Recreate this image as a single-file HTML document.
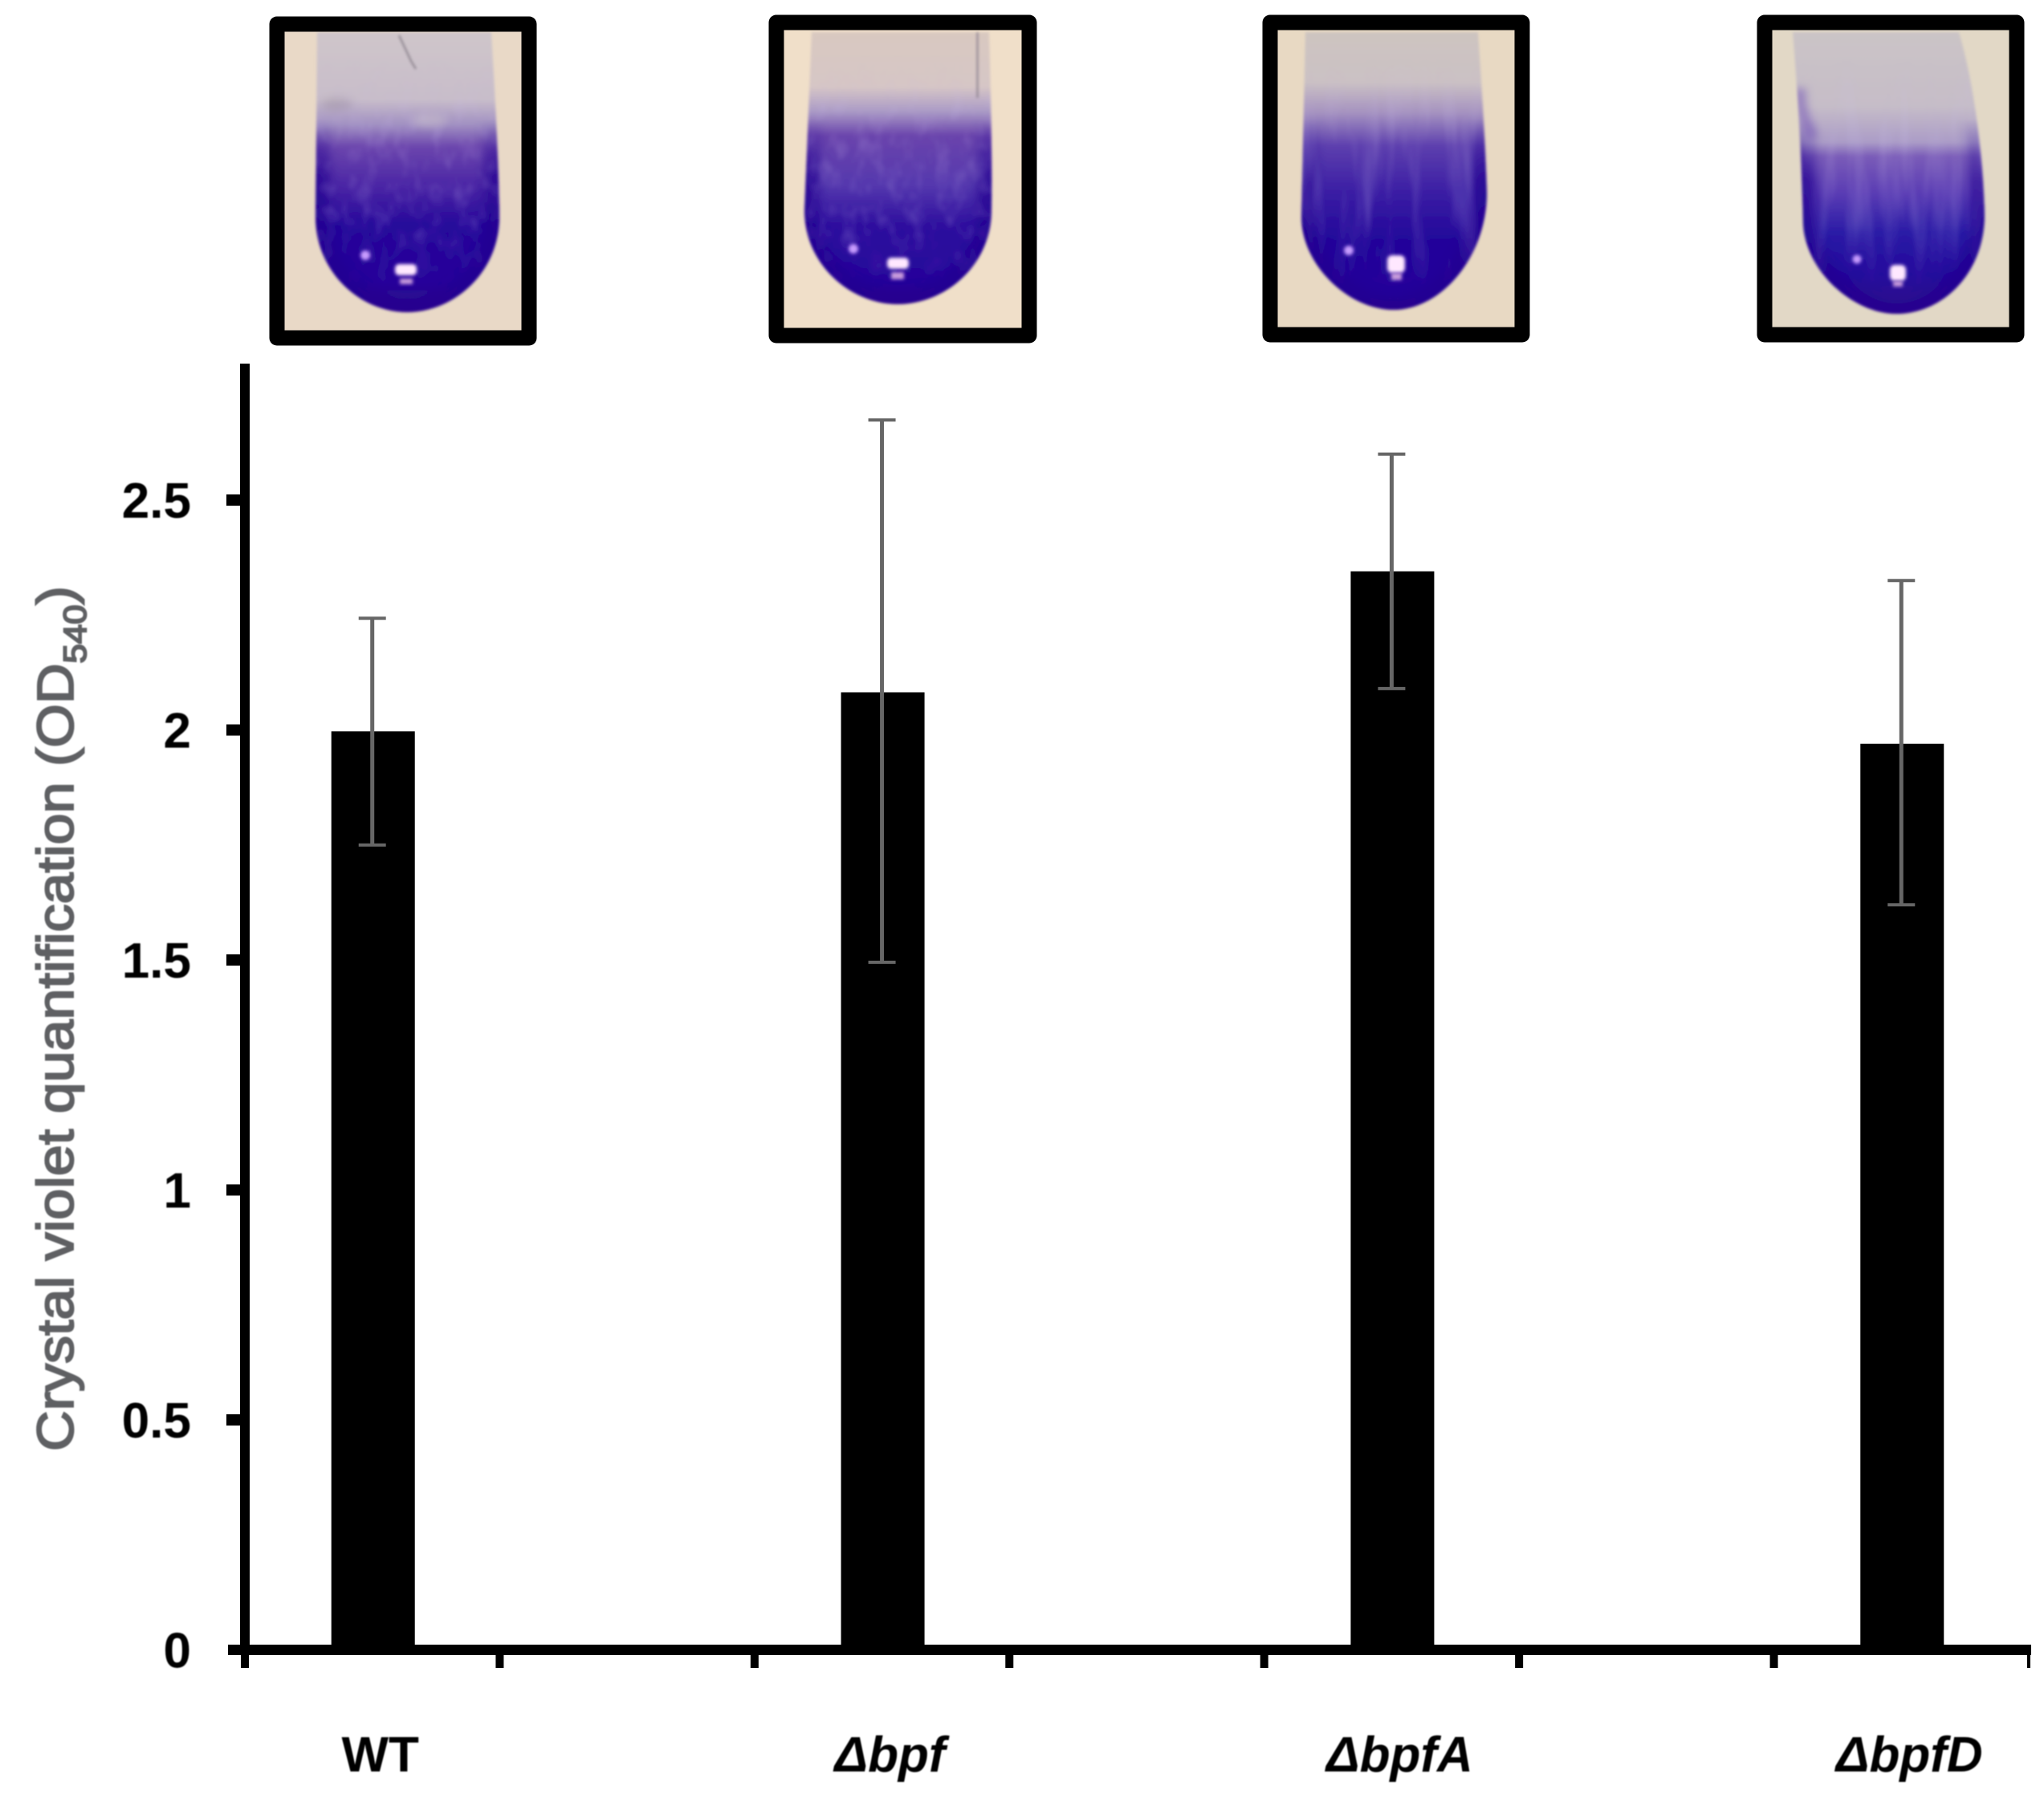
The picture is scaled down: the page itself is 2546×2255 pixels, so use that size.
<!DOCTYPE html>
<html lang="en">
<head>
<meta charset="utf-8">
<title>Crystal violet quantification</title>
<style>
  html,body{margin:0;padding:0;background:#fff;width:2546px;height:2255px;overflow:hidden}
  svg{display:block}
  text{font-family:"Liberation Sans",sans-serif}
</style>
</head>
<body>
<svg id="chart" xmlns="http://www.w3.org/2000/svg" width="2546" height="2255" viewBox="0 0 2546 2255">
  <defs>
    <filter id="soft" x="-10%" y="-10%" width="120%" height="120%"><feGaussianBlur stdDeviation="0.9"/></filter>
    <filter id="soft2" filterUnits="userSpaceOnUse" x="0" y="0" width="2546" height="450"><feGaussianBlur stdDeviation="1.6"/></filter>
    <filter id="soft3" filterUnits="userSpaceOnUse" x="0" y="0" width="2546" height="450"><feGaussianBlur stdDeviation="5"/></filter>
    <filter id="edge" filterUnits="userSpaceOnUse" x="0" y="0" width="2546" height="450"><feGaussianBlur stdDeviation="6"/></filter>
    <filter id="glow" x="-50%" y="-50%" width="200%" height="200%"><feGaussianBlur stdDeviation="2.2"/></filter>
    <filter id="streaks" filterUnits="userSpaceOnUse" x="0" y="0" width="2546" height="450">
      <feTurbulence type="fractalNoise" baseFrequency="0.05 0.006" numOctaves="3" seed="7"/>
      <feColorMatrix type="matrix" values="0 0 0 0 0.62  0 0 0 0 0.55  0 0 0 0 0.85  1.9 0 0 0 -0.85"/>
      <feGaussianBlur stdDeviation="1.2"/>
    </filter>
    <filter id="mottle" filterUnits="userSpaceOnUse" x="0" y="0" width="2546" height="450">
      <feTurbulence type="fractalNoise" baseFrequency="0.06 0.035" numOctaves="3" seed="11"/>
      <feColorMatrix type="matrix" values="0 0 0 0 0.60  0 0 0 0 0.50  0 0 0 0 0.88  2.2 0 0 0 -1"/>
      <feGaussianBlur stdDeviation="1.6"/>
    </filter>
    <linearGradient id="fadeStreak" gradientUnits="userSpaceOnUse" x1="0" y1="0" x2="0" y2="450">
      <stop offset=".16" stop-color="#000"/><stop offset=".36" stop-color="#fff"/><stop offset=".62" stop-color="#fff"/><stop offset=".8" stop-color="#000"/>
    </linearGradient>
    <linearGradient id="fadeEdge" gradientUnits="userSpaceOnUse" x1="0" y1="0" x2="0" y2="450">
      <stop offset=".33" stop-color="#000"/><stop offset=".5" stop-color="#fff"/>
    </linearGradient>
    <mask id="mStreak" maskUnits="userSpaceOnUse" x="0" y="0" width="2546" height="450"><rect width="2546" height="450" fill="url(#fadeStreak)"/></mask>
    <mask id="mEdge" maskUnits="userSpaceOnUse" x="0" y="0" width="2546" height="450"><rect width="2546" height="450" fill="url(#fadeEdge)"/></mask>
    <linearGradient id="g1" gradientUnits="userSpaceOnUse" x1="0" y1="40" x2="0" y2="390">
      <stop offset="0" stop-color="#cfc6ca"/><stop offset=".24" stop-color="#c8bdca"/><stop offset=".33" stop-color="#a190c2"/>
      <stop offset=".41" stop-color="#6b45ad"/><stop offset=".55" stop-color="#4a25a5"/><stop offset=".69" stop-color="#25079a"/>
      <stop offset=".89" stop-color="#26049a"/><stop offset="1" stop-color="#35128a"/>
    </linearGradient>
    <linearGradient id="g2" gradientUnits="userSpaceOnUse" x1="0" y1="40" x2="0" y2="380">
      <stop offset="0" stop-color="#d9c9c0"/><stop offset=".2" stop-color="#d6c6c6"/><stop offset=".29" stop-color="#ab9bc6"/>
      <stop offset=".38" stop-color="#6a44ac"/><stop offset=".56" stop-color="#5538ae"/><stop offset=".71" stop-color="#2d0e9e"/>
      <stop offset=".92" stop-color="#25049a"/><stop offset="1" stop-color="#35128a"/>
    </linearGradient>
    <linearGradient id="g3" gradientUnits="userSpaceOnUse" x1="0" y1="40" x2="0" y2="386">
      <stop offset="0" stop-color="#cdc4c0"/><stop offset=".18" stop-color="#cbc1c4"/><stop offset=".29" stop-color="#a592c0"/>
      <stop offset=".41" stop-color="#5d3fae"/><stop offset=".58" stop-color="#3a1da4"/><stop offset=".75" stop-color="#22069a"/>
      <stop offset=".95" stop-color="#26049a"/><stop offset="1" stop-color="#35128a"/>
    </linearGradient>
    <linearGradient id="g4" gradientUnits="userSpaceOnUse" x1="0" y1="40" x2="0" y2="392">
      <stop offset="0" stop-color="#cbc4c6"/><stop offset=".26" stop-color="#c6bdc8"/><stop offset=".39" stop-color="#ab9cc7"/>
      <stop offset=".44" stop-color="#7a5cb8"/><stop offset=".57" stop-color="#5a3cb4"/><stop offset=".71" stop-color="#2a1ba6"/>
      <stop offset=".86" stop-color="#24089c"/><stop offset="1" stop-color="#35128a"/>
    </linearGradient>
    <path id="p1" d="M395 40 L393 270 C393 340 450 389 507 389 C565 389 622 340 622 270 C621 190 616 110 612 40 Z"/>
    <path id="p2" d="M1011 40 L1002 262 C1002 330 1060 379 1118 379 C1178 379 1235 330 1235 262 C1236 190 1234 110 1232 40 Z"/>
    <path id="p3" d="M1626 40 L1621 270 C1621 330 1680 386 1736 386 C1795 386 1852 320 1852 240 C1850 170 1845 100 1841 40 Z"/>
    <path id="p4" d="M2233 40 C2238 100 2244 190 2246 280 C2250 340 2310 391 2362 391 C2420 391 2473 340 2472 265 C2470 190 2458 100 2440 40 Z"/>
    <clipPath id="c1"><use href="#p1"/></clipPath>
    <clipPath id="c2"><use href="#p2"/></clipPath>
    <clipPath id="c3"><use href="#p3"/></clipPath>
    <clipPath id="c4"><use href="#p4"/></clipPath>
  </defs>

  <g>
    <rect x="345" y="30" width="314" height="391" fill="#e9d9c7"/>
    <g filter="url(#soft2)"><g clip-path="url(#c1)">
      <rect x="385" y="40" width="245" height="352" fill="url(#g1)"/>
      <g mask="url(#mEdge)"><use href="#p1" fill="none" stroke="#230690" stroke-width="34" filter="url(#edge)" opacity=".7"/></g>
      <g mask="url(#mStreak)"><rect x="385" y="40" width="245" height="352" filter="url(#mottle)" opacity=".22"/></g>
      <ellipse cx="535" cy="150" rx="22" ry="8" fill="#c9bfcc" opacity=".55" filter="url(#soft3)"/>
      <ellipse cx="420" cy="130" rx="20" ry="8" fill="#8f8296" opacity=".35" filter="url(#soft3)"/>
      <path d="M497 44 L512 76 L518 86" fill="none" stroke="#756c78" stroke-width="3" opacity=".6"/>
    </g></g>
    <circle cx="455" cy="318" r="6" fill="#c89cff" filter="url(#glow)"/>
    <rect x="492" y="329" width="27" height="14" rx="5" fill="#ffe8ff" filter="url(#glow)"/>
    <rect x="498" y="347" width="16" height="7" fill="#c79bdc" filter="url(#glow)"/>
    <rect x="345" y="30" width="314" height="391" fill="none" stroke="#000" stroke-width="19" stroke-linejoin="round"/>
  </g>

  <g>
    <rect x="967" y="28" width="315" height="390" fill="#f0dfc9"/>
    <g filter="url(#soft2)"><g clip-path="url(#c2)">
      <rect x="995" y="40" width="245" height="342" fill="url(#g2)"/>
      <g mask="url(#mEdge)"><use href="#p2" fill="none" stroke="#230690" stroke-width="34" filter="url(#edge)" opacity=".7"/></g>
      <g mask="url(#mStreak)"><rect x="995" y="40" width="245" height="342" filter="url(#mottle)" opacity=".22"/></g>
      <rect x="1216" y="40" width="3" height="82" fill="#8f8592" opacity=".8"/>
    </g></g>
    <circle cx="1063" cy="310" r="6" fill="#c89cff" filter="url(#glow)"/>
    <rect x="1105" y="321" width="27" height="14" rx="5" fill="#ffe8ff" filter="url(#glow)"/>
    <rect x="1110" y="339" width="16" height="9" fill="#c79bdc" filter="url(#glow)"/>
    <rect x="967" y="28" width="315" height="390" fill="none" stroke="#000" stroke-width="19" stroke-linejoin="round"/>
  </g>

  <g>
    <rect x="1582" y="28" width="314" height="389" fill="#e8d9c3"/>
    <g filter="url(#soft2)"><g clip-path="url(#c3)">
      <rect x="1615" y="40" width="245" height="348" fill="url(#g3)"/>
      <g mask="url(#mEdge)"><use href="#p3" fill="none" stroke="#230690" stroke-width="34" filter="url(#edge)" opacity=".7"/></g>
      <g mask="url(#mStreak)"><rect x="1615" y="40" width="245" height="348" filter="url(#streaks)" opacity=".32"/></g>
    </g></g>
    <circle cx="1680" cy="312" r="6" fill="#c89cff" filter="url(#glow)"/>
    <rect x="1728" y="318" width="22" height="22" rx="6" fill="#ffe8ff" filter="url(#glow)"/>
    <rect x="1733" y="340" width="13" height="9" fill="#c79bdc" filter="url(#glow)"/>
    <rect x="1582" y="28" width="314" height="389" fill="none" stroke="#000" stroke-width="19" stroke-linejoin="round"/>
  </g>

  <g>
    <rect x="2198" y="28" width="314" height="389" fill="#e2d8c6"/>
    <g filter="url(#soft2)"><g clip-path="url(#c4)">
      <rect x="2225" y="40" width="255" height="354" fill="url(#g4)"/>
      <g mask="url(#mEdge)"><use href="#p4" fill="none" stroke="#230690" stroke-width="34" filter="url(#edge)" opacity=".7"/></g>
      <g mask="url(#mStreak)"><rect x="2225" y="40" width="255" height="354" filter="url(#streaks)" opacity=".3"/></g>
      <path d="M2243 110 C2240 130 2248 150 2258 172" fill="none" stroke="#7a5cb8" stroke-width="14" opacity=".6" filter="url(#soft3)"/>
    </g></g>
    <circle cx="2313" cy="323" r="5.5" fill="#c89cff" filter="url(#glow)"/>
    <rect x="2354" y="330" width="20" height="20" rx="6" fill="#ffe8ff" filter="url(#glow)"/>
    <rect x="2358" y="350" width="12" height="7" fill="#c79bdc" filter="url(#glow)"/>
    <rect x="2198" y="28" width="314" height="389" fill="none" stroke="#000" stroke-width="19" stroke-linejoin="round"/>
  </g>

  <g id="plot"></g>

  <text transform="translate(91,1808) rotate(-90)" font-size="64" fill="#5f6164" stroke="#5f6164" stroke-width="2" textLength="1078" lengthAdjust="spacingAndGlyphs" filter="url(#soft)">Crystal violet quantification (OD<tspan font-size="40" dy="16">540</tspan><tspan dy="-16">)</tspan></text>
</svg>

<script>
const categories = ["WT", "\u0394bpf", "\u0394bpfA", "\u0394bpfD"];
const meanValues = [1.997, 2.082, 2.345, 1.97];
const errorHigh = [2.243, 2.674, 2.6, 2.325];
const errorLow = [1.75, 1.495, 2.09, 1.62];
const yTickValues = [0, 0.5, 1, 1.5, 2, 2.5];
const yTickLabels = ["0", "0.5", "1", "1.5", "2", "2.5"];

const NS = "http://www.w3.org/2000/svg";
const plot = document.getElementById("plot");
const slots = categories.length * 2 - 1;
const x0 = 305, x1 = 2527, y0 = 2055.5, pxPerUnit = 573;
const band = (x1 - x0) / slots;
const xPos = i => x0 + band * (i * 2 + 0.5) + 1;
const yPos = v => y0 - v * pxPerUnit;

function make(tag, attrs, parent) {
  const el = document.createElementNS(NS, tag);
  for (const k in attrs) el.setAttribute(k, attrs[k]);
  (parent || plot).appendChild(el);
  return el;
}

// bars
categories.forEach((c, i) => {
  const bar = make("rect", {x: xPos(i) - 52, y: yPos(meanValues[i]), width: 104, height: y0 - yPos(meanValues[i]), fill: "#000"});
  
  
});

// axes
const yAxis = make("rect", {x: 299, y: 453, width: 12, height: 1609, fill: "#000"});


const xAxis = make("rect", {x: 284, y: 2049, width: 2246, height: 13, fill: "#000"});



for (let t = 0; t <= slots; t++) {
  const tx = x0 + band * t;
  const w = t === slots ? 4 : 10;
  const tick = make("rect", {x: tx - w / 2, y: 2062, width: w, height: 16, fill: "#000"});
  
  
}

yTickValues.forEach((v, i) => {
  if (v !== 0) {
    const tick = make("rect", {x: 282, y: yPos(v) - 7, width: 18, height: 14, fill: "#000"});
    
    
  }
  const label = make("text", {x: 238, y: yPos(v) + 22, "text-anchor": "end", "font-size": 62, "font-weight": 700, fill: "#000", filter: "url(#soft)"});
  label.textContent = yTickLabels[i];
  
  
});

// error bars
categories.forEach((c, i) => {
  const cx = xPos(i) - 1;
  const hi = yPos(errorHigh[i]), lo = yPos(errorLow[i]);
  const g = make("g", {stroke: "#666", fill: "none"});
  
  
  make("line", {x1: cx, x2: cx, y1: hi, y2: lo, "stroke-width": 5}, g);
  make("line", {x1: cx - 17, x2: cx + 17, y1: hi, y2: hi, "stroke-width": 4}, g);
  make("line", {x1: cx - 17, x2: cx + 17, y1: lo, y2: lo, "stroke-width": 4}, g);
});

// category labels
categories.forEach((c, i) => {
  const label = make("text", {x: xPos(i) + 9, y: 2207, "text-anchor": "middle", "font-size": 62, "font-weight": 700, fill: "#000", filter: "url(#soft)"});
  if (i > 0) label.setAttribute("font-style", "italic");
  label.textContent = c;
  
  
});
</script>
</body>
</html>
